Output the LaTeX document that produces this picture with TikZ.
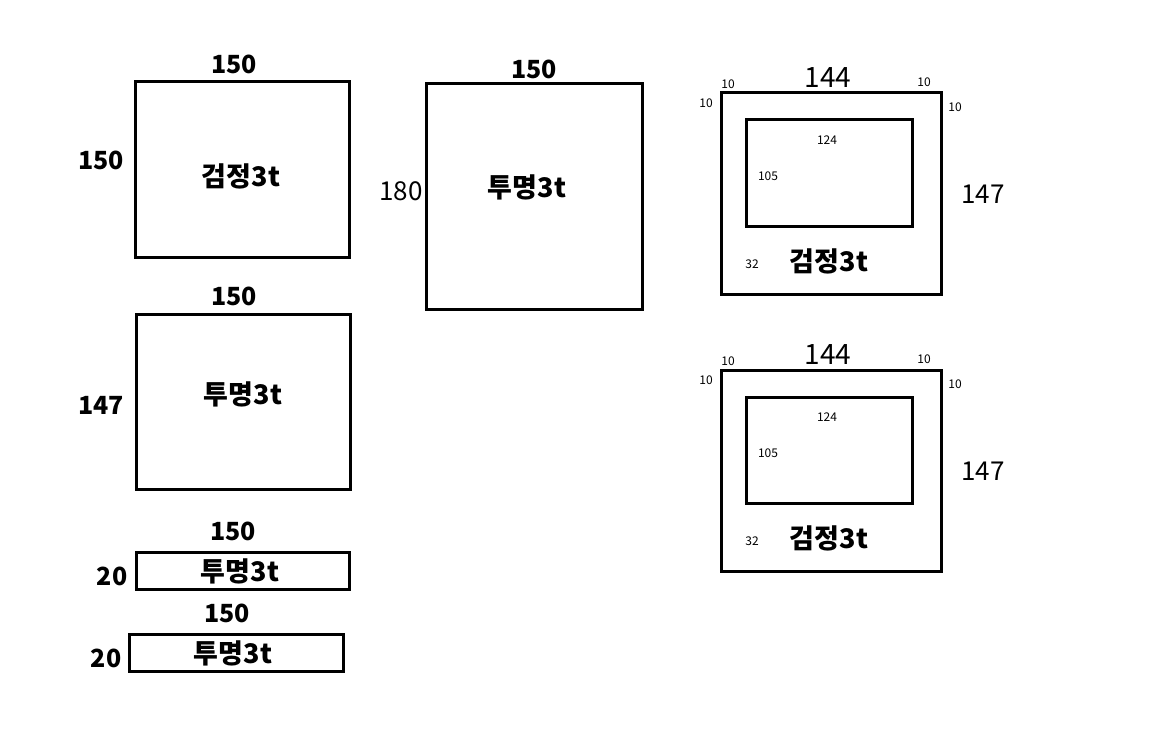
\documentclass[tikz,border=0pt]{standalone}
\usepackage{fontspec}
\setmainfont{Noto Sans CJK KR}
\begin{document}
\begin{tikzpicture}[x=1pt,y=-1pt,
  plate/.style={draw=black,line width=3pt,fill=none},
  bl/.style={font=\fontsize{25}{28}\selectfont\bfseries,inner sep=0pt},
  kl/.style={font=\fontsize{27}{30}\selectfont\bfseries,inner sep=0pt},
  rg/.style={font=\fontsize{26}{29}\selectfont,inner sep=0pt},
  big/.style={font=\fontsize{28}{31}\selectfont,inner sep=0pt},
  sm/.style={font=\fontsize{12}{14}\selectfont,inner sep=0pt},
  md/.style={font=\fontsize{12}{14}\selectfont,inner sep=0pt}]
\fill[white] (0,0) rectangle (1152,733);
\useasboundingbox (0,0) rectangle (1152,733);
% left column
\draw[plate] (135,82) rectangle (349,257);
\node[bl] (t1) at (234,64) {150};
\node[bl] (l1) at (101,160) {150};
\node[kl] (c1) at (241,176) {검정3t};
\draw[plate] (136,314) rectangle (350,489);
\node[bl] (t2) at (234,296) {150};
\node[bl] (l2) at (101,405) {147};
\node[kl] (c2) at (243,394) {투명3t};
\draw[plate] (136,552) rectangle (349,589);
\node[bl] (t3) at (233,531) {150};
\node[bl] (l3) at (112,576) {20};
\node[kl] (c3) at (240,571) {투명3t};
\draw[plate] (129,634) rectangle (343,671);
\node[bl] (t4) at (227,613) {150};
\node[bl] (l4) at (106,658) {20};
\node[kl] (c4) at (233,653) {투명3t};
% middle
\draw[plate] (426,84) rectangle (642,309);
\node[bl] (t5) at (534,69) {150};
\node[rg] (l5) at (401,191) {180};
\node[kl] (c5) at (527,187) {투명3t};
% right frames
\foreach \dy/\n in {0/a,277/b}{
  \begin{scope}[yshift=-\dy pt]
  \draw[plate] (721,93) rectangle (941,294);
  \draw[plate] (746,120) rectangle (912,226);
  \node[big] (w\n) at (828,78) {144};
  \node[sm] (p\n) at (728,84) {10};
  \node[sm] (q\n) at (924,82) {10};
  \node[sm] (r\n) at (706,103) {10};
  \node[sm] (s\n) at (955,107) {10};
  \node[md] (i\n) at (827,140) {124};
  \node[md] (h\n) at (768,176) {105};
  \node[rg] (v\n) at (983,194) {147};
  \node[md] (b\n) at (752,264) {32};
  \node[kl] (k\n) at (829,261) {검정3t};
  \end{scope}}
\end{tikzpicture}
\end{document}
